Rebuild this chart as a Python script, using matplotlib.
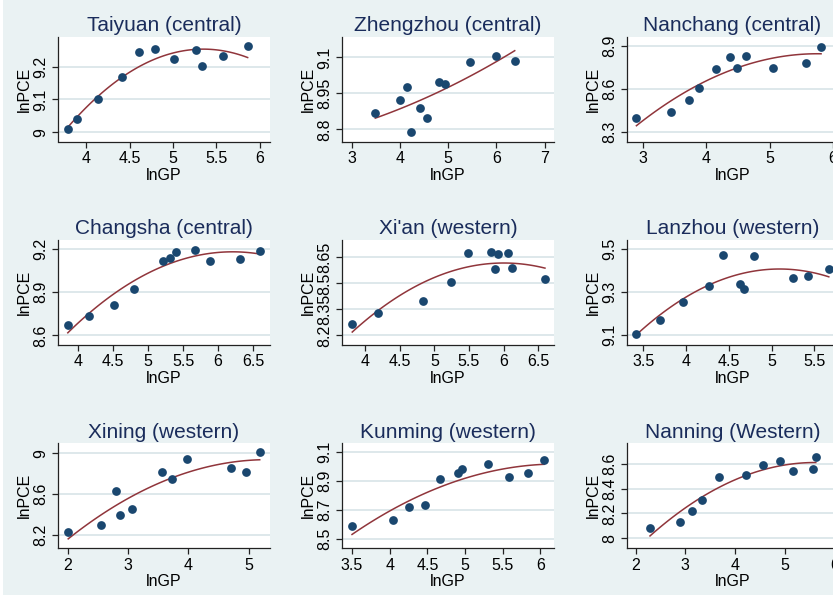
import matplotlib.pyplot as plt
import matplotlib.patches as mpatches
import numpy as np

# ---- data (lnGP, lnPCE) ----
taiyuan_x = [3.79, 3.89, 4.14, 4.41, 4.61, 4.79, 5.01, 5.27, 5.33, 5.58, 5.86]
taiyuan_y = [9.009, 9.040, 9.100, 9.169, 9.244, 9.253, 9.224, 9.249, 9.201, 9.231, 9.263]

zhengzhou_x = [3.49, 4.01, 4.15, 4.22, 4.42, 4.56, 4.82, 4.93, 5.46, 5.99, 6.38]
zhengzhou_y = [8.869, 8.921, 8.975, 8.789, 8.890, 8.847, 8.997, 8.988, 9.081, 9.107, 9.086]

nanchang_x = [2.90, 3.45, 3.73, 3.89, 4.15, 4.38, 4.49, 4.62, 5.05, 5.57, 5.81]
nanchang_y = [8.396, 8.438, 8.524, 8.607, 8.739, 8.821, 8.744, 8.830, 8.749, 8.784, 8.893]

changsha_x = [3.85, 4.16, 4.51, 4.79, 5.21, 5.31, 5.40, 5.67, 5.89, 6.31, 6.60]
changsha_y = [8.674, 8.735, 8.809, 8.926, 9.114, 9.137, 9.181, 9.195, 9.114, 9.133, 9.186]

xian_x = [3.81, 4.19, 4.83, 5.24, 5.49, 5.82, 5.87, 5.92, 6.06, 6.12, 6.60]
xian_y = [8.268, 8.329, 8.401, 8.507, 8.677, 8.683, 8.582, 8.669, 8.677, 8.586, 8.524]

lanzhou_x = [3.41, 3.69, 3.96, 4.27, 4.43, 4.63, 4.68, 4.80, 5.25, 5.43, 5.67]
lanzhou_y = [9.106, 9.170, 9.252, 9.327, 9.470, 9.339, 9.314, 9.467, 9.363, 9.372, 9.405]

xining_x = [2.01, 2.56, 2.80, 2.87, 3.07, 3.57, 3.73, 3.98, 4.71, 4.95, 5.18]
xining_y = [8.230, 8.293, 8.636, 8.398, 8.451, 8.821, 8.749, 8.947, 8.861, 8.821, 9.013]

kunming_x = [3.50, 4.04, 4.25, 4.47, 4.67, 4.91, 4.96, 5.30, 5.58, 5.84, 6.05]
kunming_y = [8.589, 8.627, 8.721, 8.734, 8.912, 8.955, 8.983, 9.016, 8.931, 8.957, 9.044]

nanning_x = [2.29, 2.89, 3.13, 3.34, 3.68, 4.21, 4.55, 4.90, 5.17, 5.57, 5.62]
nanning_y = [8.084, 8.133, 8.217, 8.312, 8.491, 8.510, 8.595, 8.622, 8.546, 8.562, 8.654]

titles = ["Taiyuan (central)", "Zhengzhou (central)", "Nanchang (central)",
          "Changsha (central)", "Xi'an (western)", "Lanzhou (western)",
          "Xining (western)", "Kunming (western)", "Nanning (Western)"]

xticks = [[4, 4.5, 5, 5.5, 6], [3, 4, 5, 6, 7], [3, 4, 5, 6],
          [4, 4.5, 5, 5.5, 6, 6.5], [4, 4.5, 5, 5.5, 6, 6.5], [3.5, 4, 4.5, 5, 5.5],
          [2, 3, 4, 5], [3.5, 4, 4.5, 5, 5.5, 6], [2, 3, 4, 5, 6]]
yticks = [[9, 9.1, 9.2], [8.8, 8.95, 9.1], [8.3, 8.6, 8.9],
          [8.6, 8.9, 9.2], [8.2, 8.35, 8.5, 8.65], [9.1, 9.3, 9.5],
          [8.2, 8.6, 9], [8.5, 8.7, 8.9, 9.1], [8, 8.2, 8.4, 8.6]]

# ---- layout / axis ranges ----
xlims = [(3.68, 6.115), (2.806, 7.19), (2.747, 6.08),
         (3.714, 6.738), (3.666, 6.728), (3.305, 5.78),
         (1.846, 5.347), (3.371, 6.178), (1.822, 6.07)]
ylims = [(8.972, 9.29), (8.75, 9.185), (8.23, 8.965),
         (8.537, 9.263), (8.148, 8.75), (9.055, 9.542),
         (8.074, 9.099), (8.437, 9.163), (7.921, 8.768)]

W, H = 833, 595
col_left = [58.3, 342.3, 626.7]
row_top = [37.0, 240.0, 443.3]
pw, ph = 211.5, 104.5

bg = "#EAF2F3"
navy = "#1A476F"
maroon = "#90353B"

plt.rcParams['font.family'] = ['Liberation Sans', 'DejaVu Sans']

fig = plt.figure(figsize=(W / 100, H / 100), dpi=100, facecolor=bg)
fig.patches.append(mpatches.Rectangle((0, 0), 3 / W, 1, transform=fig.transFigure,
                                      facecolor="white", edgecolor="none"))

xs = [taiyuan_x, zhengzhou_x, nanchang_x, changsha_x, xian_x, lanzhou_x,
      xining_x, kunming_x, nanning_x]
ys = [taiyuan_y, zhengzhou_y, nanchang_y, changsha_y, xian_y, lanzhou_y,
      xining_y, kunming_y, nanning_y]

for i in range(9):
    r, c = divmod(i, 3)
    ax = fig.add_axes([col_left[c] / W, 1 - (row_top[r] + ph) / H, pw / W, ph / H])
    ax.set_facecolor("white")
    x = np.array(xs[i])
    y = np.array(ys[i])

    for t in yticks[i]:
        ax.axhline(t, color="#DEE8EB", lw=1.4, zorder=0)

    # quadratic fit (like Stata qfit)
    coef = np.polyfit(x, y, 2)
    xf = np.linspace(x.min(), x.max(), 100)
    ax.plot(xf, np.polyval(coef, xf), color=maroon, lw=1.1, zorder=2)
    ax.plot(x, y, "o", color=navy, markersize=6.3, markeredgewidth=0, zorder=3)

    ax.set_xlim(*xlims[i])
    ax.set_ylim(*ylims[i])
    ax.set_xticks(xticks[i], labels=[f"{t:g}" for t in xticks[i]])
    ax.set_yticks(yticks[i], labels=[f"{t:g}" for t in yticks[i]])
    for lab in ax.get_yticklabels():
        lab.set_rotation(90)
        lab.set_va("center")
    ax.tick_params(direction="out", length=4, width=0.9, labelsize=11.5, pad=3,
                   color="#222222")
    for s in ["top", "right"]:
        ax.spines[s].set_visible(False)
    for s in ["left", "bottom"]:
        ax.spines[s].set_color("#222222")
        ax.spines[s].set_linewidth(0.9)

    ax.set_xlabel("lnGP", fontsize=11.5, labelpad=1)
    ax.set_ylabel("lnPCE", fontsize=11.5, labelpad=1)
    ax.set_title(titles[i], fontsize=15, color="#1A2C5B", pad=4)

fig.savefig("out.png", dpi=100, facecolor=bg)
